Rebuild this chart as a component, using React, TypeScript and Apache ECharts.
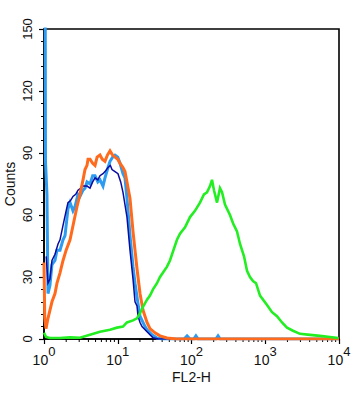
import React, { useEffect, useRef } from "react";
import * as echarts from "echarts";

// x values are in decades (log10 of FL2-H), y values are counts
const lightBlue: [number, number][] = [
  [0, 200], [0.015, 200], [0.02, 86], [0.04, 70], [0.054, 22], [0.081, 26], [0.108, 36], [0.149, 38],
  [0.176, 43], [0.217, 43], [0.258, 48], [0.285, 50], [0.325, 63], [0.353, 66], [0.393, 62],
  [0.42, 64], [0.461, 70], [0.488, 69], [0.529, 72], [0.556, 73], [0.583, 76], [0.624, 75],
  [0.66, 79], [0.692, 79], [0.73, 76], [0.759, 77], [0.8, 74], [0.827, 78], [0.868, 83],
  [0.895, 86], [0.93, 88], [0.963, 89], [1.0, 88], [1.031, 85], [1.071, 80], [1.098, 78],
  [1.125, 68], [1.166, 50], [1.207, 35], [1.234, 27], [1.275, 17], [1.302, 11], [1.329, 9],
  [1.37, 6], [1.397, 4.5], [1.464, 2], [1.532, 0.5], [1.6, 0], [1.9, 0], [1.94, 1.5],
  [1.98, 0], [2.03, 0], [2.06, 1.5], [2.09, 0], [2.33, 0], [2.36, 1.5], [2.39, 0], [4, 0],
];

const darkBlue: [number, number][] = [
  [0.03, 40], [0.054, 27], [0.081, 29], [0.108, 38], [0.149, 41], [0.19, 46], [0.217, 48],
  [0.258, 55], [0.3, 62], [0.325, 66], [0.36, 67], [0.393, 69], [0.43, 70], [0.461, 72],
  [0.5, 73], [0.529, 74], [0.583, 74], [0.624, 73], [0.66, 76], [0.692, 78], [0.73, 77],
  [0.759, 79], [0.8, 80], [0.827, 81], [0.868, 83], [0.9, 84], [0.922, 82], [0.963, 81],
  [1.003, 80], [1.04, 76], [1.071, 71], [1.125, 59], [1.166, 43], [1.207, 29], [1.234, 18],
  [1.261, 16], [1.275, 11], [1.302, 8], [1.329, 6], [1.397, 3.5], [1.478, 0.6], [1.55, 0], [4, 0],
];

const orange: [number, number][] = [
  [0, 37], [0.01, 10], [0.027, 5], [0.054, 10], [0.081, 14], [0.108, 18], [0.149, 22],
  [0.176, 27], [0.217, 32], [0.258, 38], [0.3, 43], [0.353, 48], [0.4, 56], [0.447, 64],
  [0.488, 70], [0.529, 77], [0.556, 82], [0.583, 84], [0.597, 87], [0.624, 87], [0.66, 85],
  [0.692, 84], [0.72, 88], [0.759, 89], [0.79, 87], [0.827, 86], [0.86, 89], [0.895, 91],
  [0.93, 89], [0.963, 88], [1.0, 87], [1.031, 85], [1.07, 83], [1.098, 81], [1.125, 76],
  [1.166, 68], [1.207, 52], [1.261, 34], [1.302, 22], [1.342, 14], [1.397, 8], [1.437, 5],
  [1.505, 3], [1.573, 1.5], [1.668, 0.5], [1.8, 0], [4, 0],
];

const green: [number, number][] = [
  [0, 3], [0.027, 1], [0.081, 0.5], [0.217, 0.5], [0.353, 0.8], [0.488, 0.6], [0.624, 2],
  [0.759, 3.5], [0.895, 4.5], [0.99, 5.5], [1.071, 6], [1.125, 8], [1.207, 9], [1.261, 10],
  [1.302, 12.5], [1.342, 15.5], [1.397, 19], [1.437, 21], [1.478, 24], [1.532, 27],
  [1.573, 30], [1.668, 35], [1.708, 38], [1.803, 48], [1.844, 51], [1.912, 54], [1.98, 59],
  [2.047, 62], [2.115, 66], [2.169, 70], [2.21, 71], [2.251, 74], [2.278, 77], [2.305, 72],
  [2.346, 66], [2.386, 73], [2.414, 71], [2.454, 65], [2.522, 60], [2.563, 56], [2.617, 52],
  [2.658, 46], [2.712, 40], [2.753, 33], [2.793, 30], [2.834, 28], [2.875, 27], [2.929, 21],
  [3.024, 16.5], [3.092, 13], [3.159, 11], [3.227, 8], [3.295, 5.5], [3.376, 4], [3.471, 2.5],
  [3.607, 2], [3.742, 1.5], [3.878, 1], [3.99, 0.5],
];

const decadeTicks = [0, 1, 2, 3, 4];
const minorMultipliers = [2, 3, 4, 5, 6, 7, 8, 9];
const yTicks = [0, 30, 60, 90, 120, 150];

const FONT = "Liberation Sans, Arial, Helvetica, sans-serif";

export default function App() {
  const ref = useRef<HTMLDivElement>(null);
  useEffect(() => {
    if (!ref.current) return;
    const chart = echarts.init(ref.current, undefined, { renderer: "svg" });
    const minorTicks: [number, number][] = [];
    decadeTicks.slice(0, -1).forEach((d) =>
      minorMultipliers.forEach((m) => minorTicks.push([d + Math.log10(m), 0]))
    );
    const line = (name: string, data: [number, number][], color: string, width: number) => ({
      name,
      type: "line",
      data,
      showSymbol: false,
      symbol: "none",
      silent: true,
      lineStyle: { color, width, join: "miter" },
      clip: true,
    });
    chart.setOption({
      animation: false,
      grid: {
        left: 44,
        top: 29,
        right: 17,
        bottom: 54,
        containLabel: false,
        outerBoundsMode: "none",
        show: true,
        borderColor: "#000",
        borderWidth: 1.6,
        backgroundColor: "transparent",
      },
      xAxis: {
        type: "value",
        min: decadeTicks[0],
        max: decadeTicks[decadeTicks.length - 1],
        interval: 1,
        name: "FL2-H",
        nameLocation: "middle",
        nameGap: 31,
        nameMoveOverlap: false,
        nameTextStyle: { fontFamily: FONT, fontSize: 14, color: "#111" },
        axisLine: { show: true, lineStyle: { color: "#000", width: 1.6 } },
        axisTick: { show: true, length: 5, lineStyle: { color: "#000", width: 1.2 } },
        splitLine: { show: false },
        axisLabel: {
          margin: 6,
          color: "#111",
          fontFamily: FONT,
          formatter: (v: number) => `{b|10}{s|${v}}`,
          rich: {
            b: { fontSize: 14, fontFamily: FONT, color: "#111", lineHeight: 22, verticalAlign: "bottom" },
            s: { fontSize: 13, fontFamily: FONT, color: "#111", lineHeight: 13, verticalAlign: "top" },
          },
        },
      },
      yAxis: {
        type: "value",
        min: yTicks[0],
        max: yTicks[yTicks.length - 1],
        interval: 30,
        name: "Counts",
        nameLocation: "middle",
        nameGap: 27,
        nameMoveOverlap: false,
        nameTextStyle: { fontFamily: FONT, fontSize: 14, color: "#111" },
        axisLine: { show: true, lineStyle: { color: "#000", width: 1.6 } },
        axisTick: { show: true, length: 5, lineStyle: { color: "#000", width: 1.2 } },
        minorTick: { show: true, splitNumber: 5, length: 3, lineStyle: { color: "#000", width: 1 } },
        splitLine: { show: false },
        axisLabel: { rotate: 90, margin: 10, fontSize: 13, fontFamily: FONT, color: "#111" },
      },
      series: [
        line("light blue", lightBlue, "#2C9BF0", 3),
        line("dark blue", darkBlue, "#0B0BA0", 1.5),
        line("orange", orange, "#FF6A1C", 3),
        line("green", green, "#22EE22", 2.6),
        {
          type: "custom",
          silent: true,
          clip: false,
          data: minorTicks,
          renderItem: (_p: any, api: any) => {
            const pt = api.coord([api.value(0), 0]);
            return {
              type: "line",
              shape: { x1: pt[0], y1: pt[1], x2: pt[0], y2: pt[1] + 3 },
              style: { stroke: "#000", lineWidth: 1 },
            };
          },
        },
      ],
    });
    return () => chart.dispose();
  }, []);
  return (
    <div
      ref={ref}
      style={{ position: "fixed", left: 0, top: 0, width: 356, height: 393, background: "#fff" }}
    />
  );
}
